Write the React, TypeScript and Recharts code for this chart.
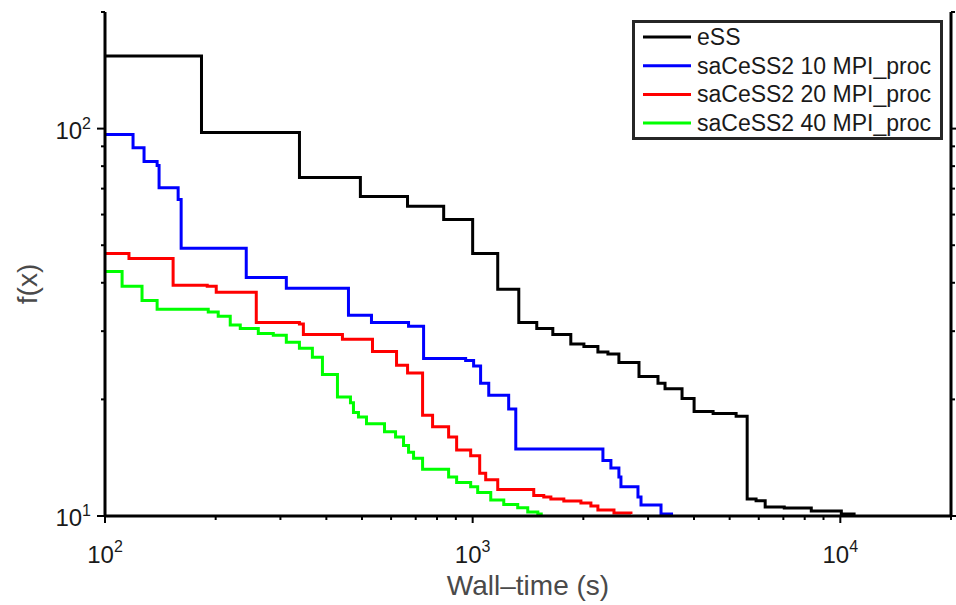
import React from 'react';
import { LineChart, Line, XAxis, YAxis, Legend, Customized } from 'recharts';

const FONT = '"Liberation Sans", Arial, Helvetica, sans-serif';

// Tick values
const xTicks = [100, 200, 300, 400, 500, 600, 700, 800, 900, 1000, 2000, 3000, 4000, 5000, 6000, 7000, 8000, 9000, 10000, 20000];
const yTicks = [10, 20, 30, 40, 50, 60, 70, 80, 90, 100, 200];
const xDomain = [100, 20000];
const yDomain = [10, 200];

// Series names and colours
const seriesNames = ['eSS', 'saCeSS2 10 MPI_proc', 'saCeSS2 20 MPI_proc', 'saCeSS2 40 MPI_proc'];
const seriesColors = ['#000000', '#0000ff', '#ff0000', '#00ff00'];

// eSS
const essTime = [100, 183, 338, 495, 665, 834, 1000, 1170, 1335, 1494, 1652, 1849, 2007, 2191, 2333, 2499, 2834, 3192, 3336, 3711, 4002, 4508, 5207, 5580, 5900, 6246, 7039, 8337, 10063, 10900];
const essF = [154, 97.7, 74.8, 66.8, 63.0, 58.3, 47.6, 38.5, 31.6, 30.5, 29.4, 27.8, 27.4, 26.5, 26.2, 24.9, 22.9, 22.0, 21.3, 20.1, 18.6, 18.4, 18.1, 11.06, 10.95, 10.55, 10.49, 10.30, 10.12, 10.03];

// saCeSS2 10 MPI_proc
const blueTime = [100, 119.2, 127.7, 138.6, 140.3, 158.1, 161.1, 242.2, 311.3, 459.4, 530.6, 669.3, 735.4, 957, 1006, 1051, 1106, 1253, 1310, 2261, 2377, 2499, 2531, 2816, 2870, 3253, 3508];
const blueF = [96.5, 89.3, 82.2, 80.3, 70.4, 65.6, 49.1, 41.3, 38.7, 33.0, 31.6, 30.9, 25.5, 25.2, 24.4, 22.0, 20.5, 18.9, 14.9, 13.9, 13.3, 12.6, 11.9, 11.2, 10.67, 10.12, 10.12];

// saCeSS2 20 MPI_proc
const redTime = [100, 116.2, 153.2, 189.7, 200.7, 257.9, 337.9, 346.4, 442.4, 534.0, 620.8, 665.2, 730.8, 778.0, 860.2, 904.5, 987.6, 1045, 1085, 1170, 1466, 1561, 1632, 1770, 1970, 2097, 2191, 2423, 2695];
const redF = [47.6, 46.2, 39.4, 39.2, 37.8, 31.6, 31.3, 29.4, 28.6, 26.6, 24.5, 23.4, 18.2, 17.0, 16.0, 14.8, 14.3, 12.9, 12.4, 11.7, 11.3, 11.2, 11.06, 10.93, 10.80, 10.61, 10.36, 10.18, 10.12];

// saCeSS2 40 MPI_proc
const greenTime = [100, 111.3, 126.1, 138.6, 190.9, 203.2, 219.1, 233.3, 261.2, 286.9, 311.3, 337.9, 366.5, 390.3, 428.8, 465.2, 474.0, 489.1, 514.3, 575.8, 617.0, 648.6, 669.3, 690.6, 730.8, 860.2, 904.5, 987.6, 1032, 1120, 1215, 1326, 1412, 1504, 1551];
const greenF = [42.8, 39.2, 36.0, 34.2, 33.6, 32.8, 31.1, 30.5, 29.6, 29.3, 28.1, 27.1, 25.7, 23.2, 20.3, 19.6, 18.5, 18.0, 17.3, 16.5, 16.0, 15.2, 14.6, 14.1, 13.2, 12.6, 12.2, 11.9, 11.5, 11.0, 10.7, 10.5, 10.24, 10.12, 10.12];

const zip = (xs: number[], ys: number[]) => xs.map((x, i) => ({ x, y: ys[i] }));
const seriesData = [zip(essTime, essF), zip(blueTime, blueF), zip(redTime, redF), zip(greenTime, greenF)];

const isMajor = (v: number) => Math.abs(Math.log10(v) - Math.round(Math.log10(v))) < 1e-9;
const expOf = (v: number) => Math.round(Math.log10(v));

const BottomTick = (props: any) => {
  const { x, y, payload } = props;
  const v = payload.value;
  const major = isMajor(v);
  return (
    <g>
      <line x1={x} x2={x} y1={y} y2={y + (major ? 7 : 4)} stroke="#000" strokeWidth={2} />
      {major && (
        <text x={x} y={y + 47} textAnchor="middle" fontSize={24} fill="#1a1a1a" fontFamily={FONT}>
          10<tspan dy={-11} fontSize={16}>{expOf(v)}</tspan>
        </text>
      )}
    </g>
  );
};

const TopTick = (props: any) => {
  const { x, y, payload } = props;
  const major = isMajor(payload.value);
  return <line x1={x} x2={x} y1={y} y2={y - (major ? 7 : 4)} stroke="#000" strokeWidth={2} />;
};

const LeftTick = (props: any) => {
  const { x, y, payload } = props;
  const v = payload.value;
  const major = isMajor(v);
  return (
    <g>
      <line x1={x} x2={x - (major ? 8 : 4)} y1={y} y2={y} stroke="#000" strokeWidth={2} />
      {major && (
        <text x={x - 14} y={y + 10} textAnchor="end" fontSize={24} fill="#1a1a1a" fontFamily={FONT}>
          10<tspan dy={-10} fontSize={16}>{expOf(v)}</tspan>
        </text>
      )}
    </g>
  );
};

const RightTick = (props: any) => {
  const { x, y, payload } = props;
  const major = isMajor(payload.value);
  return <line x1={x} x2={x + (major ? 7 : 4)} y1={y} y2={y} stroke="#000" strokeWidth={2} />;
};

const renderLegend = (props: any) => {
  const items = props.payload || [];
  return (
    <svg width={311} height={120} style={{ display: 'block' }}>
      <rect x={1.5} y={1.5} width={308} height={117} fill="#fff" stroke="#262626" strokeWidth={3} />
      {items.map((it: any, i: number) => {
        const cy = 17 + i * 28.7;
        return (
          <g key={i}>
            <line x1={11} x2={59} y1={cy} y2={cy} stroke={it.color} strokeWidth={3} />
            <text x={65} y={cy + 8} fontSize={23} fill="#1a1a1a" fontFamily={FONT}>{it.value}</text>
          </g>
        );
      })}
    </svg>
  );
};

const AxisLabels = () => (
  <g>
    <text x={528} y={595} textAnchor="middle" fontSize={28} fill="#4a4a4a" fontFamily={FONT}>Wall–time (s)</text>
    <text x={37} y={284} transform="rotate(-90 37 284)" textAnchor="middle" fontSize={28} fill="#4a4a4a" fontFamily={FONT}>f(x)</text>
  </g>
);

const axisLine = { stroke: '#000', strokeWidth: 3 };

export default function App() {
  return (
    <div style={{ position: 'absolute', left: 0, top: 0, background: '#fff' }}>
      <LineChart width={956} height={605} margin={{ top: 12, right: 0, bottom: 0, left: 0 }}>
        <XAxis xAxisId="b" type="number" dataKey="x" scale="log" domain={xDomain} ticks={xTicks} interval={0}
          allowDataOverflow tickLine={false} tickSize={0} tickMargin={0} height={89} axisLine={axisLine}
          tick={(p: any) => <BottomTick {...p} />} />
        <XAxis xAxisId="t" orientation="top" type="number" dataKey="x" scale="log" domain={xDomain} ticks={xTicks} interval={0}
          allowDataOverflow tickLine={false} tickSize={0} tickMargin={0} height={0} axisLine={axisLine}
          tick={(p: any) => <TopTick {...p} />} />
        <YAxis yAxisId="l" type="number" dataKey="y" scale="log" domain={yDomain} ticks={yTicks} interval={0}
          allowDataOverflow tickLine={false} tickSize={0} tickMargin={0} width={105} axisLine={axisLine}
          tick={(p: any) => <LeftTick {...p} />} />
        <YAxis yAxisId="r" orientation="right" type="number" dataKey="y" scale="log" domain={yDomain} ticks={yTicks} interval={0}
          allowDataOverflow tickLine={false} tickSize={0} tickMargin={0} width={5} axisLine={axisLine}
          tick={(p: any) => <RightTick {...p} />} />
        {seriesData.map((d, i) => (
          <Line key={seriesNames[i]} xAxisId="b" yAxisId="l" data={d} dataKey="y" name={seriesNames[i]}
            type="stepAfter" stroke={seriesColors[i]} strokeWidth={3} dot={false} activeDot={false}
            isAnimationActive={false} />
        ))}
        <Legend layout="horizontal" verticalAlign="middle" align="center" content={renderLegend}
          wrapperStyle={{ position: 'absolute', left: 632, top: 20, width: 311, height: 120 }} />
        <Customized component={AxisLabels} />
      </LineChart>
    </div>
  );
}
